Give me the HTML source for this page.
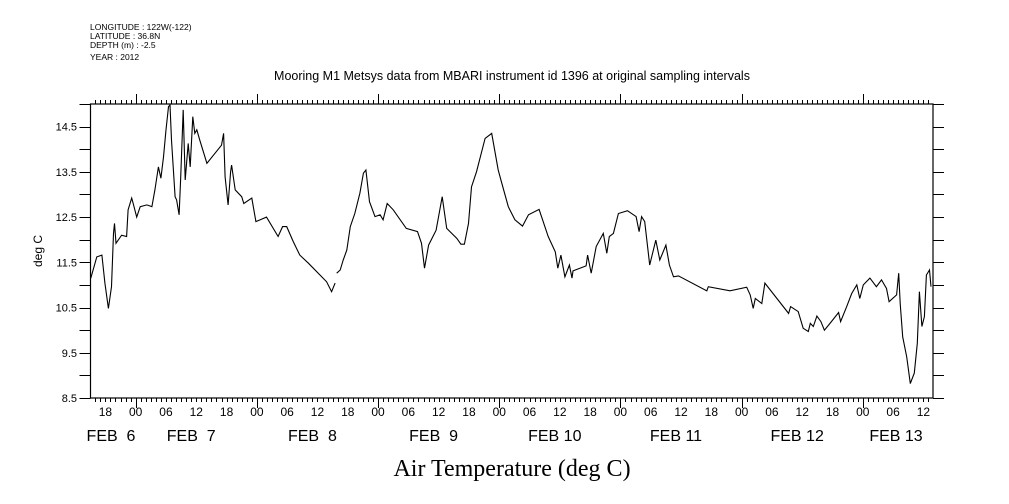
<!DOCTYPE html>
<html><head><meta charset="utf-8"><style>
body{margin:0;background:#fff;}
svg{display:block;font-family:"Liberation Sans",sans-serif;}
</style></head><body>
<svg id="chart" width="1009" height="504" viewBox="0 0 1009 504">
<g font-size="8.5" fill="#000">
<text x="90" y="30">LONGITUDE : 122W(-122)</text>
<text x="90" y="39">LATITUDE : 36.8N</text>
<text x="90" y="48">DEPTH (m) : -2.5</text>
<text x="90" y="60">YEAR : 2012</text>
</g>
<text x="512" y="80" text-anchor="middle" font-size="12.5">Mooring M1 Metsys data from MBARI instrument id 1396 at original sampling intervals</text>
<text x="512" y="476" text-anchor="middle" font-size="24" font-family="Liberation Serif,serif">Air Temperature (deg C)</text>
<text transform="translate(42,251) rotate(-90)" text-anchor="middle" font-size="12">deg C</text>
<g id="axes"></g>
<g id="series"></g>
</svg>
<script>
const hours=[15.1,16.3,17.3,17.9,18.6,19.2,19.6,19.8,20.1,21.2,22.2,22.5,23.2,23.5,24.2,24.9,26.2,27.2,27.8,28.5,29,29.5,30.0,30.5,30.8,31.1,31.8,32.1,32.6,32.9,33.4,33.8,34.4,34.8,35.3,35.7,36.1,36.7,38.1,41.0,41.4,41.7,42.3,42.8,43.0,43.7,45.0,45.4,47.0,47.8,49.9,52.2,53.1,53.9,55.2,56.5,58.2,61.8,62.8,63.5,63.65,63.8,64.5,65.1,65.8,66.5,67.4,68.4,69.1,69.6,70.3,71.4,72.4,73.0,73.8,75.0,77.6,79.8,80.6,81.2,82.0,83.5,84.7,85.6,87.6,88.4,89.1,89.9,90.5,91.5,93.2,94.5,95.8,96.5,97.8,99.1,100.6,101.8,103.9,105.7,107.1,107.6,108.2,109.0,109.9,110.4,110.6,113.2,113.5,114.2,115.2,116.6,117.3,117.8,118.6,119.6,121.4,123.1,123.7,124.2,124.8,125.8,127.0,127.8,129.0,129.7,130.5,131.5,137.1,137.4,141.7,145.0,145.7,146.3,146.7,148.0,148.6,153.3,153.7,155.2,156.2,157.2,157.6,158.2,158.9,159.7,160.4,161.5,163.2,163.6,164.8,165.8,166.8,167.4,168.1,169.4,170.7,171.7,172.7,173.2,174.7,175.1,175.4,175.9,176.7,177.4,178.2,178.8,179.2,179.7,180.2,180.6,181.2,181.5];
const temps=[11.15,11.62,11.66,11.04,10.48,10.96,12.14,12.36,11.92,12.1,12.07,12.66,12.92,12.8,12.5,12.73,12.77,12.73,13.1,13.61,13.36,13.83,14.43,14.94,14.98,14.2,12.95,12.88,12.55,13.32,14.87,13.32,14.13,13.61,14.72,14.35,14.43,14.2,13.69,14.09,14.35,13.39,12.77,13.5,13.65,13.1,12.95,12.8,12.92,12.4,12.5,12.07,12.29,12.29,11.96,11.66,11.48,11.07,10.85,11.04,null,11.26,11.33,11.55,11.77,12.29,12.58,13.03,13.47,13.54,12.84,12.51,12.55,12.44,12.8,12.66,12.25,12.18,11.92,11.37,11.88,12.21,12.95,12.25,12.03,11.9,11.9,12.36,13.17,13.5,14.24,14.35,13.54,13.25,12.73,12.44,12.3,12.55,12.67,12.07,11.73,11.37,11.66,11.18,11.44,11.15,11.31,11.42,11.66,11.26,11.85,12.14,11.7,12.07,12.14,12.58,12.64,12.51,12.18,12.51,12.4,11.44,11.99,11.55,11.88,11.44,11.18,11.2,10.87,10.96,10.87,10.95,10.78,10.48,10.7,10.59,11.04,10.37,10.52,10.41,10.04,9.97,10.15,10.08,10.31,10.19,10.0,10.15,10.39,10.19,10.52,10.81,11.0,10.7,11.0,11.15,10.96,11.11,10.92,10.63,10.78,11.26,10.59,9.85,9.41,8.82,9.05,9.71,10.85,10.08,10.3,11.22,11.33,10.96];
const yTickLabels=["8.5","9.5","10.5","11.5","12.5","13.5","14.5"];
const hourLabels=["18","00","06","12","18","00","06","12","18","00","06","12","18","00","06","12","18","00","06","12","18","00","06","12","18","00","06","12"];
const dayLabels=["FEB  6","FEB  7","FEB  8","FEB  9","FEB 10","FEB 11","FEB 12","FEB 13"];

const L=90.5,R=933,T=104,B=398;
const H0=15.05,H1=181.9,V0=8.5,V1=15.0;
const xS=h=>L+(h-H0)/(H1-H0)*(R-L);
const yS=v=>B-(v-V0)/(V1-V0)*(B-T);
const NS="http://www.w3.org/2000/svg";
const axes=document.getElementById('axes');
function mk(tag,attrs,parent){const e=document.createElementNS(NS,tag);for(const k in attrs)e.setAttribute(k,attrs[k]);parent.appendChild(e);return e;}

const frame=mk('rect',{x:L,y:T,width:R-L,height:B-T,fill:'none',stroke:'#000','stroke-width':1.2},axes);



let tp='';
for(let h=Math.ceil(H0);h<=H1;h++){
  const x=Math.round(xS(h))+0.5;const day=h%24===0;const len=day?10:4;
  tp+=`M${x},${B}v${len}M${x},${T}v${-len}`;
}
for(let v=V0;v<=V1+0.001;v+=0.5){
  const y=Math.round(yS(v))+0.5;
  tp+=`M${L},${y}h-11M${R},${y}h11`;
}
const ticks=mk('path',{d:tp,stroke:'#000','stroke-width':1,fill:'none'},axes);



yTickLabels.forEach(s=>{
  const t=mk('text',{x:77,y:yS(parseFloat(s))+4,'text-anchor':'end','font-size':11},axes);
  t.textContent=s;
  
  
});
hourLabels.forEach((s,i)=>{
  const h=18+6*i;
  const t=mk('text',{x:xS(h),y:416,'text-anchor':'middle','font-size':12},axes);
  t.textContent=s;
  
  
});
dayLabels.forEach((s,i)=>{
  let c=xS(24*i+11);
  if(i===0)c=111; if(i===dayLabels.length-1)c=896;
  const t=mk('text',{x:c,y:441,'text-anchor':'middle','font-size':16},axes);
  t.setAttribute('style','white-space:pre');
  t.textContent=s;
  
  
});

let d='',pen=false;
hours.forEach((h,i)=>{
  const v=temps[i];
  if(v===null){pen=false;return;}
  d+=(pen?'L':'M')+xS(h).toFixed(1)+','+yS(v).toFixed(1);pen=true;
});
const line=mk('path',{d:d,fill:'none',stroke:'#000','stroke-width':1.1},document.getElementById('series'));


</script>
</body></html>
